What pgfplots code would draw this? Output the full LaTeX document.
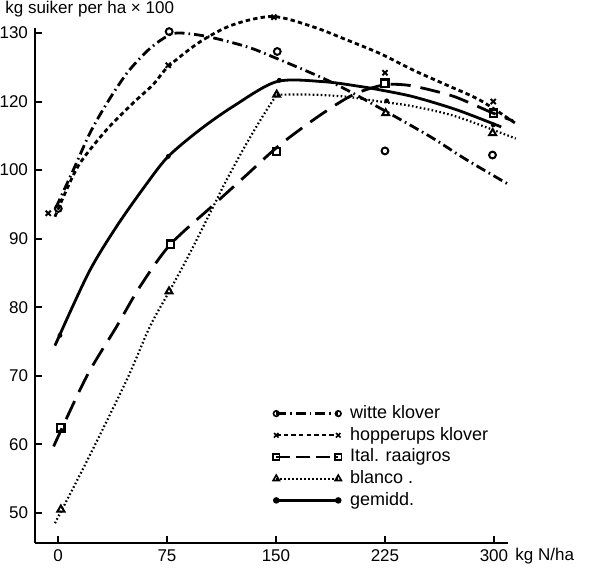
\documentclass[border=0pt]{standalone}
\usepackage{fontspec}
\setmainfont{Liberation Sans}
\usepackage{pgfplots}
\pgfplotsset{compat=1.18}
\begin{document}
\begin{tikzpicture}
\begin{axis}[
  name=ax, scale only axis, width=236.45pt, height=257.5pt,
  xmin=-15.8, xmax=309.6, ymin=45.62, ymax=120.73,
  axis lines=left, axis line style={line width=1.2pt, -},
  clip=false,
  xtick={0,75,150,225,300},
  ytick={50,60,70,80,90,100,110,120},
  yticklabels={50,60,70,80,90,100,120,130},
  tick align=inside, major tick length=3.5pt,
  tick style={line width=1pt, black},
  ticklabel style={font=\fontsize{8.5}{10}\selectfont},
  /pgf/number format/assume math mode=true,
  legend style={at={(axis cs:148,65.8)}, anchor=north west, draw=none, fill=none,
    inner sep=0pt, outer sep=0pt, font=\fontsize{9}{10}\selectfont,
    nodes={inner sep=0pt, text height=7pt, text depth=2pt},
    row sep=1.85pt,
    /tikz/every odd column/.append style={column sep=4.3pt}},
  legend cell align=left,
  legend image code/.code={\draw[mark repeat=2,mark phase=1,#1] plot coordinates {(0pt,0pt) (15.5pt,0pt) (31pt,0pt)};},
]
% fitted curves
\addplot[forget plot, line width=1.4pt, smooth, dash pattern=on 5pt off 2pt on 0.8pt off 2pt] coordinates {
(-1.5,94.5) (10.5,100.0) (22.0,105.4) (33.5,109.7) (47.3,114.1) (61.0,117.3) (72.5,119.2) (82,120.0) (102.3,119.5) (129.8,118.0) (148.1,116.5) (180.3,113.6) (198.7,111.7) (223.6,108.8) (256.0,104.9) (281.2,101.5) (311.0,97.8)};
\addplot[forget plot, line width=1.4pt, smooth, dash pattern=on 2.2pt off 1.6pt] coordinates {
(-2.1,93.2) (4.8,96.6) (15.1,101.0) (33.5,105.9) (51.8,109.8) (65.6,112.5) (75.9,115.1) (97.7,118.7) (120.4,121.2) (147.9,122.4) (175.5,120.9) (198.6,119.0) (221.6,117.0) (244.3,114.6) (267.5,112.4) (290.4,110.2) (315,106.8)};
\addplot[forget plot, line width=1.4pt, smooth, dash pattern=on 10pt off 5pt] coordinates {
(-3,59.7) (19.7,69.9) (40.4,77.2) (56.4,83.0) (77.1,89.1) (106.9,94.9) (129.8,99.3) (152.8,103.7) (180.3,108.0) (203.2,111.0) (223.8,112.4) (240,112.4) (258,111.6) (274.3,110.6) (299.5,108.3) (313,107.2)};
\addplot[forget plot, line width=1.1pt, smooth, dash pattern=on 0.8pt off 1.2pt] coordinates {
(-2.1,48.5) (20,57.6) (47.3,69.4) (63.3,77.2) (77.1,82.5) (90.8,87.9) (106.9,94.7) (116.1,98.6) (129.8,103.9) (141.3,108.0) (150.5,111.0)};
\addplot[forget plot, line width=1.1pt, smooth, dash pattern=on 0.8pt off 1.2pt] coordinates {
(150.5,111.0) (175.7,111.0) (198.6,110.7) (221.6,110.0) (244.5,109.3) (274.3,107.8) (315,104.6)};
\addplot[forget plot, line width=1.4pt, smooth] coordinates {
(-2.1,74.4) (21,85.0) (40.4,91.8) (61.0,98.0) (75.9,102.0) (97.7,105.9) (120.6,109.3) (150.5,112.9) (182.6,112.9) (207.8,112.2) (221.6,111.7) (244.5,110.7) (274.3,108.8) (305,106.3)};
% observed points
\addplot[forget plot, only marks, mark=o, mark size=1.7pt, mark options={line width=1pt}] coordinates {
(0.2,94.4) (76.5,120.2) (150.9,117.3) (225,102.8) (299,102.2)};
\addplot[forget plot, only marks, mark=x, mark size=1.8pt, mark options={line width=1pt}] coordinates {
(-6.7,93.7) (75.9,115.3) (148.6,122.3) (225,114.2) (299.5,110.0)};
\addplot[forget plot, only marks, mark=square, mark size=1.8pt, mark options={line width=1.1pt}] coordinates {
(2,62.4) (77.5,89.2) (150.5,102.7) (225,112.7) (299.5,108.3)};
\addplot[forget plot, only marks, mark=triangle, mark size=2pt, mark options={line width=1pt}] coordinates {
(2,50.5) (76.4,82.3) (150.5,111.0) (225.5,108.3) (299.1,105.4)};
\addplot[forget plot, only marks, mark=*, mark size=1pt] coordinates {
(1.4,75.9) (75.9,102.0) (152.3,113.1) (226.2,110.1) (299.5,106.6)};
% legend
\addlegendimage{line width=1.2pt, dash pattern=on 5pt off 2pt on 0.8pt off 2pt, mark=o, mark size=1.4pt, mark options={solid, line width=0.8pt}}
\addlegendentry{witte klover}
\addlegendimage{line width=1.2pt, dash pattern=on 2.2pt off 1.6pt, mark=x, mark size=1.6pt, mark options={solid, line width=0.8pt}}
\addlegendentry{hopperups klover}
\addlegendimage{line width=1.2pt, dash pattern=on 7pt off 3pt, mark=square, mark size=1.6pt, mark options={solid, line width=0.9pt}}
\addlegendentry{Ital. raaigros}
\addlegendimage{line width=1pt, dash pattern=on 0.8pt off 1.2pt, mark=triangle, mark size=1.8pt, mark options={solid, line width=0.8pt}}
\addlegendentry{blanco .}
\addlegendimage{line width=1.2pt, mark=*, mark size=1pt, mark options={solid}}
\addlegendentry{gemidd.}
% labels
\node[anchor=west, font=\fontsize{8.5}{10}\selectfont, inner sep=0pt] at (axis cs:-36.5,123.5) {kg suiker per ha × 100};
\node[anchor=west, font=\fontsize{8.5}{10}\selectfont, inner sep=0pt] at (axis cs:314.5,43.7) {kg N/ha};
\coordinate (bl) at (axis cs:-39.9,41.98);
\coordinate (tr) at (axis cs:366.1,124.81);
\end{axis}
\pgfresetboundingbox
\path (bl) rectangle (tr);
\end{tikzpicture}
\end{document}
